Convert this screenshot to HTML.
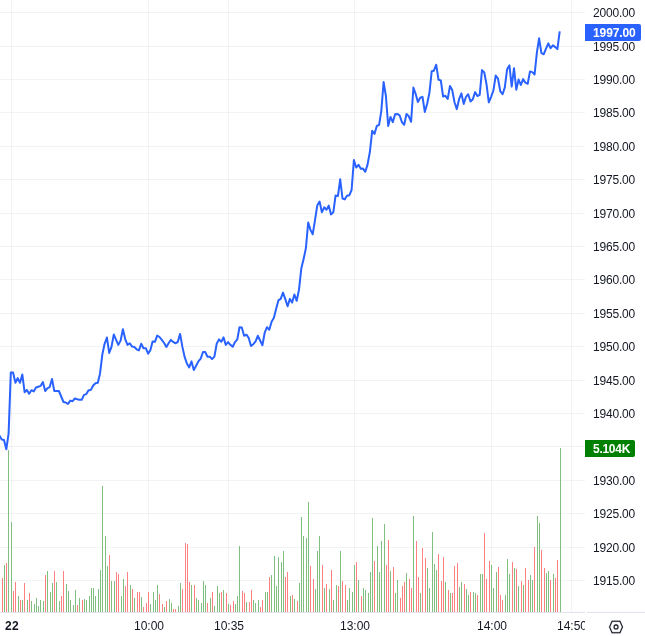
<!DOCTYPE html>
<html><head><meta charset="utf-8"><title>Chart</title>
<style>
html,body{margin:0;padding:0;background:#fff;}
body{width:645px;height:636px;overflow:hidden;position:relative;font-family:"Liberation Sans",sans-serif;font-size:12px;color:#131722;letter-spacing:-0.2px;}
#pane{position:absolute;left:0;top:0;width:585px;height:612px;overflow:hidden;}
.h{position:absolute;left:0;width:585px;height:1px;background:rgba(42,46,50,0.06);}
.v{position:absolute;top:0;width:1px;height:612px;background:rgba(42,46,50,0.06);}
svg{position:absolute;left:0;top:0;}
.p{will-change:transform;position:absolute;left:585px;width:56px;height:16px;line-height:16px;padding-left:8px;box-sizing:border-box;white-space:nowrap;}
.lab{will-change:transform;letter-spacing:-0.1px;position:absolute;left:585px;height:17px;line-height:19px;color:#fff;font-weight:bold;padding-left:8px;box-sizing:border-box;border-radius:0 2px 2px 0;white-space:nowrap;}
#taxis{position:absolute;left:0;top:613px;width:585px;height:23px;overflow:hidden;}
.t{will-change:transform;position:absolute;top:5px;letter-spacing:-0.05px;width:60px;margin-left:-30px;text-align:center;height:16px;line-height:16px;white-space:nowrap;}
.bl{position:absolute;top:612px;height:1px;background:#e0e3eb;}
</style></head><body>
<div id="pane">
<div class="h" style="top:12px"></div>
<div class="h" style="top:46px"></div>
<div class="h" style="top:79px"></div>
<div class="h" style="top:112px"></div>
<div class="h" style="top:146px"></div>
<div class="h" style="top:179px"></div>
<div class="h" style="top:213px"></div>
<div class="h" style="top:246px"></div>
<div class="h" style="top:279px"></div>
<div class="h" style="top:313px"></div>
<div class="h" style="top:346px"></div>
<div class="h" style="top:380px"></div>
<div class="h" style="top:413px"></div>
<div class="h" style="top:446px"></div>
<div class="h" style="top:480px"></div>
<div class="h" style="top:513px"></div>
<div class="h" style="top:547px"></div>
<div class="h" style="top:580px"></div>
<div class="v" style="left:11px"></div>
<div class="v" style="left:148px"></div>
<div class="v" style="left:228px"></div>
<div class="v" style="left:354px"></div>
<div class="v" style="left:491px"></div>
<div class="v" style="left:571px"></div>
<svg width="585" height="612" viewBox="0 0 585 612">
<path d="M4.5,565V612M8.5,450V612M11.5,522V612M18.5,596V612M22.5,600V612M27.5,600V612M31.5,601V612M34.5,604V612M36.5,598V612M38.5,606V612M40.5,600V612M43.5,601V612M47.5,571V612M50.5,592V612M52.5,583V612M56.5,582V612M59.5,601V612M66.5,584V612M68.5,591V612M70.5,600V612M73.5,605V612M75.5,590V612M79.5,598V612M84.5,599V612M86.5,600V612M89.5,596V612M91.5,588V612M93.5,588V612M95.5,596V612M98.5,589V612M100.5,570V612M102.5,486V612M105.5,536V612M107.5,566V612M111.5,581V612M114.5,581V612M121.5,596V612M123.5,579V612M130.5,585V612M134.5,598V612M141.5,597V612M150.5,604V612M153.5,592V612M155.5,600V612M157.5,585V612M164.5,607V612M169.5,599V612M171.5,603V612M178.5,606V612M180.5,583V612M191.5,585V612M196.5,598V612M198.5,600V612M201.5,603V612M203.5,581V612M205.5,585V612M210.5,598V612M214.5,606V612M217.5,586V612M219.5,593V612M223.5,590V612M228.5,604V612M235.5,604V612M237.5,596V612M239.5,546V612M246.5,602V612M253.5,600V612M255.5,603V612M258.5,600V612M265.5,592V612M267.5,592V612M271.5,575V612M274.5,556V612M276.5,586V612M278.5,557V612M281.5,562V612M283.5,551V612M290.5,596V612M294.5,599V612M299.5,583V612M301.5,517V612M303.5,536V612M306.5,538V612M308.5,502V612M315.5,589V612M317.5,551V612M319.5,536V612M324.5,588V612M329.5,589V612M333.5,600V612M336.5,585V612M340.5,551V612M347.5,600V612M349.5,588V612M352.5,592V612M354.5,565V612M358.5,580V612M363.5,588V612M365.5,590V612M368.5,593V612M370.5,572V612M372.5,518V612M377.5,546V612M379.5,572V612M381.5,541V612M384.5,524V612M390.5,571V612M395.5,593V612M397.5,580V612M406.5,573V612M413.5,516V612M420.5,593V612M427.5,568V612M429.5,588V612M432.5,532V612M434.5,564V612M436.5,570V612M445.5,582V612M450.5,593V612M459.5,587V612M461.5,582V612M466.5,589V612M468.5,595V612M473.5,592V612M475.5,593V612M480.5,574V612M482.5,574V612M491.5,565V612M493.5,588V612M496.5,572V612M505.5,595V612M507.5,559V612M509.5,574V612M514.5,568V612M518.5,586V612M523.5,585V612M530.5,575V612M532.5,580V612M537.5,516V612M539.5,523V612M546.5,573V612M548.5,571V612M553.5,574V612M560.5,448V612" stroke="#80bf80" stroke-width="1" fill="none" shape-rendering="crispEdges"/>
<path d="M2.5,578V612M6.5,563V612M13.5,591V612M15.5,582V612M20.5,600V612M24.5,583V612M29.5,593V612M45.5,575V612M54.5,571V612M61.5,596V612M63.5,571V612M77.5,605V612M82.5,600V612M109.5,555V612M116.5,572V612M118.5,574V612M125.5,586V612M127.5,572V612M132.5,589V612M137.5,592V612M139.5,592V612M143.5,607V612M146.5,603V612M148.5,592V612M159.5,594V612M162.5,604V612M166.5,601V612M173.5,609V612M175.5,609V612M182.5,589V612M185.5,543V612M187.5,544V612M189.5,582V612M194.5,585V612M207.5,603V612M212.5,592V612M221.5,592V612M226.5,593V612M230.5,605V612M233.5,601V612M242.5,591V612M244.5,593V612M249.5,602V612M251.5,590V612M260.5,607V612M262.5,600V612M269.5,577V612M285.5,577V612M287.5,572V612M292.5,595V612M297.5,601V612M310.5,566V612M313.5,579V612M322.5,565V612M326.5,584V612M331.5,570V612M338.5,586V612M342.5,581V612M345.5,585V612M356.5,562V612M361.5,596V612M374.5,561V612M386.5,565V612M388.5,540V612M393.5,567V612M400.5,598V612M402.5,586V612M404.5,582V612M409.5,579V612M411.5,588V612M416.5,541V612M418.5,577V612M422.5,548V612M425.5,558V612M438.5,554V612M441.5,581V612M443.5,557V612M448.5,590V612M452.5,593V612M454.5,566V612M457.5,563V612M464.5,584V612M470.5,592V612M477.5,595V612M484.5,533V612M486.5,579V612M489.5,561V612M498.5,567V612M500.5,595V612M502.5,600V612M512.5,562V612M516.5,569V612M521.5,581V612M525.5,568V612M528.5,580V612M534.5,547V612M541.5,550V612M544.5,568V612M550.5,580V612M555.5,578V612M557.5,560V612" stroke="#ff8080" stroke-width="1" fill="none" shape-rendering="crispEdges"/>
<path d="M-0.6,435.5 L1.7,439.4 L4.0,439.9 L6.3,449.3 L8.6,433.6 L10.8,372.6 L13.1,372.6 L15.4,382.8 L17.7,378.1 L20.0,382.8 L22.3,374.5 L24.6,392.2 L26.9,389.9 L29.1,393.8 L31.4,390.2 L33.7,391.4 L36.0,387.5 L38.3,386.7 L40.6,385.9 L42.9,382.0 L45.2,391.0 L47.4,388.3 L49.7,387.0 L52.0,378.9 L54.3,391.0 L56.6,391.0 L58.9,391.0 L61.2,396.5 L63.5,402.0 L65.7,402.5 L68.0,404.0 L70.3,400.6 L72.6,401.2 L74.9,398.5 L77.2,399.3 L79.5,399.8 L81.7,399.8 L84.0,394.9 L86.3,394.1 L88.6,390.2 L90.9,389.9 L93.2,385.5 L95.5,383.3 L97.8,382.8 L100.0,373.7 L102.3,354.8 L104.6,343.8 L106.9,337.5 L109.2,352.9 L111.5,346.9 L113.8,334.4 L116.1,339.9 L118.3,344.9 L120.6,340.6 L122.9,329.2 L125.2,339.1 L127.5,344.9 L129.8,343.3 L132.1,346.6 L134.3,346.9 L136.6,349.3 L138.9,350.4 L141.2,343.8 L143.5,348.2 L145.8,348.2 L148.1,353.7 L150.4,350.1 L152.6,341.4 L154.9,341.8 L157.2,335.6 L159.5,337.0 L161.8,339.9 L164.1,343.0 L166.4,346.9 L168.7,343.0 L170.9,339.9 L173.2,341.9 L175.5,343.3 L177.8,341.9 L180.1,333.9 L182.4,346.9 L184.7,357.2 L186.9,363.5 L189.2,367.4 L191.5,361.4 L193.8,370.1 L196.1,365.7 L198.4,361.4 L200.7,358.6 L203.0,352.0 L205.2,352.0 L207.5,356.7 L209.8,356.7 L212.1,359.1 L214.4,356.6 L216.7,343.7 L219.0,339.4 L221.3,341.8 L223.5,337.4 L225.8,344.9 L228.1,342.1 L230.4,344.8 L232.7,346.8 L235.0,342.1 L237.3,339.4 L239.5,327.2 L241.8,327.6 L244.1,335.8 L246.4,334.7 L248.7,337.9 L251.0,346.0 L253.3,344.2 L255.6,341.3 L257.8,335.8 L260.1,340.5 L262.4,345.3 L264.7,332.7 L267.0,327.2 L269.3,329.8 L271.6,321.7 L273.9,317.7 L276.1,309.1 L278.4,300.4 L280.7,298.9 L283.0,292.6 L285.3,299.2 L287.6,306.3 L289.9,298.9 L292.1,302.6 L294.4,294.5 L296.7,300.8 L299.0,289.7 L301.3,268.5 L303.6,259.1 L305.9,248.1 L308.2,222.5 L310.4,229.6 L312.7,234.3 L315.0,220.2 L317.3,205.3 L319.6,201.6 L321.9,212.3 L324.2,207.3 L326.5,209.7 L328.7,205.6 L331.0,214.4 L333.3,212.3 L335.6,195.5 L337.9,196.1 L340.2,179.3 L342.5,198.5 L344.7,199.4 L347.0,195.8 L349.3,195.3 L351.6,190.0 L353.9,160.1 L356.2,167.5 L358.5,164.8 L360.8,168.8 L363.0,168.6 L365.3,171.8 L367.6,164.4 L369.9,151.8 L372.2,130.8 L374.5,133.9 L376.8,126.0 L379.1,124.9 L381.3,111.1 L383.6,82.0 L385.9,96.0 L388.2,126.0 L390.5,116.9 L392.8,122.1 L395.1,114.2 L397.3,113.9 L399.6,115.3 L401.9,122.1 L404.2,124.8 L406.5,113.9 L408.8,116.3 L411.1,121.8 L413.4,87.5 L415.6,93.8 L417.9,102.1 L420.2,97.7 L422.5,96.9 L424.8,111.9 L427.1,104.0 L429.4,93.0 L431.7,71.3 L433.9,70.7 L436.2,64.7 L438.5,79.7 L440.8,80.4 L443.1,96.5 L445.4,95.8 L447.7,99.0 L450.0,85.9 L452.2,89.9 L454.5,102.3 L456.8,109.1 L459.1,99.2 L461.4,93.4 L463.7,103.9 L466.0,96.8 L468.2,94.2 L470.5,101.5 L472.8,99.2 L475.1,92.1 L477.4,96.0 L479.7,94.9 L482.0,70.1 L484.3,72.5 L486.5,84.2 L488.8,102.3 L491.1,96.8 L493.4,90.5 L495.7,75.6 L498.0,78.7 L500.3,91.3 L502.6,94.2 L504.8,87.4 L507.1,69.3 L509.4,65.4 L511.7,86.6 L514.0,68.2 L516.3,89.7 L518.6,79.5 L520.8,85.0 L523.1,79.1 L525.4,82.7 L527.7,83.8 L530.0,71.4 L532.3,72.1 L534.6,74.5 L536.9,52.4 L539.1,38.3 L541.4,53.0 L543.7,54.3 L546.0,48.6 L548.3,43.4 L550.6,48.2 L552.9,45.3 L555.2,47.1 L557.4,49.1 L559.7,31.4" stroke="#2962ff" stroke-width="2" fill="none" stroke-linejoin="round" stroke-linecap="butt"/>
</svg></div>
<div class="p" style="top:5px">2000.00</div>
<div class="p" style="top:39px">1995.00</div>
<div class="p" style="top:72px">1990.00</div>
<div class="p" style="top:105px">1985.00</div>
<div class="p" style="top:139px">1980.00</div>
<div class="p" style="top:172px">1975.00</div>
<div class="p" style="top:206px">1970.00</div>
<div class="p" style="top:239px">1965.00</div>
<div class="p" style="top:272px">1960.00</div>
<div class="p" style="top:306px">1955.00</div>
<div class="p" style="top:339px">1950.00</div>
<div class="p" style="top:373px">1945.00</div>
<div class="p" style="top:406px">1940.00</div>
<div class="p" style="top:439px">1935.00</div>
<div class="p" style="top:473px">1930.00</div>
<div class="p" style="top:506px">1925.00</div>
<div class="p" style="top:540px">1920.00</div>
<div class="p" style="top:573px">1915.00</div>
<div class="lab" style="top:24px;width:56px;background:#2962ff">1997.00</div>
<div class="lab" style="top:440px;width:50px;background:#008000;letter-spacing:-0.27px">5.104K</div>
<div class="bl" style="left:0;width:585px"></div><div class="bl" style="left:587px;width:58px"></div>
<div id="taxis">
<div class="t" style="left:11.5px;font-weight:bold;letter-spacing:0.4px;margin-left:-29.9px">22</div>
<div class="t" style="left:148.5px">10:00</div>
<div class="t" style="left:228.5px">10:35</div>
<div class="t" style="left:354.5px">13:00</div>
<div class="t" style="left:491.5px">14:00</div>
<div class="t" style="left:571.5px">14:50</div>
</div>
<svg style="left:604px;top:615px" viewBox="0 0 24 24" width="24" height="24"><g transform="translate(12.03 11.95) scale(1.0 1.04) translate(-9 -9)"><path fill="#131722" stroke="#131722" stroke-width="0.2" fill-rule="evenodd" d="m3.1 9 2.28-5h7.24l2.28 5-2.28 5H5.38L3.1 9Zm1.63-6h8.54L16 9l-2.73 6H4.73L2 9l2.73-6Zm5.77 6a1.5 1.5 0 1 1-3 0 1.5 1.5 0 0 1 3 0Zm1 0a2.5 2.5 0 1 1-5 0 2.5 2.5 0 0 1 5 0Z"/></g></svg>
</body></html>
